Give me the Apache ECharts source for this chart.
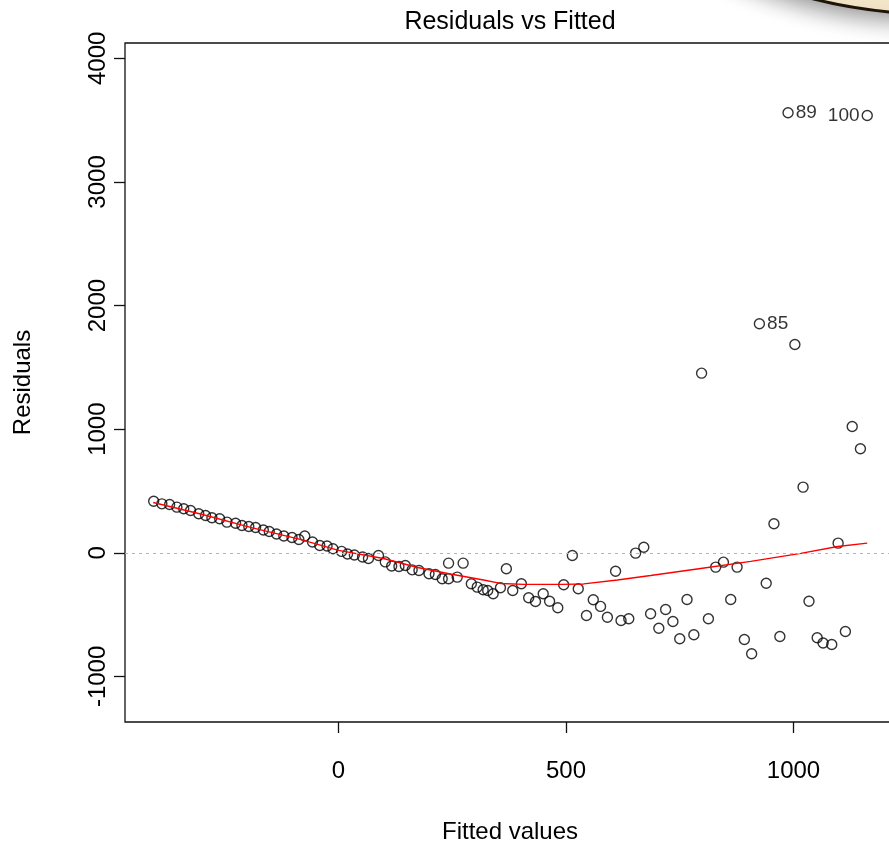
<!DOCTYPE html>
<html lang="en">

<head>
  <meta charset="UTF-8">
  <title>Residuals vs Fitted</title>
  <script src="https://cdn.jsdelivr.net/npm/echarts@6.0.0/dist/echarts.min.js"></script>
  <style>
    body {
      margin: 0;
      background: #fff;
    }
  </style>
</head>

<body>
  <div id="main" style="width: 889px;height:846px;"></div>
</body>
<script>
  // fitted values and residuals
  var fitted = [-406, -388, -371, -355, -340, -325, -307, -292, -278, -261,
    -245, -226, -212, -197, -182, -165, -152, -136, -120, -102,
    -87, -74, -57, -41, -25, -12, 7, 20, 35, 53,
    66, 88, 103, 117, 133, 147, 162, 177, 199, 213,
    228, 242, 242, 261, 274, 292, 305, 318, 328, 340,
    356, 369, 383, 402, 418, 433, 450, 464, 482, 495,
    514, 527, 545, 560, 576, 591, 609, 621, 638, 653,
    671, 686, 704, 719, 735, 750, 766, 781, 798, 813,
    829, 846, 862, 876, 892, 908, 925, 940, 957, 970,
    988, 1003, 1021, 1034, 1052, 1065, 1084, 1098, 1114, 1129,
    1147, 1162];
  var resid = [417, 396, 391, 369, 356, 342, 316, 302, 283, 275,
    248, 239, 221, 213, 205, 184, 172, 152, 136, 124,
    108, 136, 87, 59, 55, 32, 11, -10, -18, -34,
    -46, -22, -74, -107, -111, -103, -138, -143, -170, -176,
    -210, -210, -84, -197, -84, -251, -278, -299, -305, -332,
    -283, -129, -305, -251, -364, -394, -332, -392, -445, -259,
    -22, -291, -507, -380, -434, -521, -149, -548, -534, -3,
    45, -493, -610, -459, -556, -696, -378, -663, 1453, -534,
    -116, -76, -378, -116, -701, -817, 1853, -246, 235, -677,
    3560, 1685, 531, -392, -688, -730, -742, 78, -637, 1022,
    841, 3538];
  // smoother (red line)
  var lowessX = [-407, -303, -193, -84, 0, 99, 174, 246, 319, 356, 407, 488, 539, 613, 686, 796, 906, 1016, 1097, 1162];
  var lowessY = [407, 314, 205, 108, 19, -46, -119, -172, -220, -248, -256, -256, -252, -220, -184, -127, -70, -5, 51, 78];
  var xTicks = [0, 500, 1000];
  var yTicks = [-1000, 0, 1000, 2000, 3000, 4000];
  // labelled observations
  var idIndex = [86, 90, 101];
  var idText = ['85', '89', '100'];
  var idSide = ['right', 'right', 'left'];

  var myChart = echarts.init(document.getElementById('main'));
  var font = '"Liberation Sans", Arial, sans-serif';

  var points = fitted.map(function (x, i) {
    var item = { value: [x, resid[i]] };
    var k = idIndex.indexOf(i);
    if (k >= 0) {
      item.label = { show: true, formatter: idText[k], position: idSide[k], color: '#000' };
    }
    return item;
  });
  var smooth = lowessX.map(function (x, i) {
    return [x, lowessY[i]];
  });
  var plain = function (v) {
    return String(v);
  };

  var option = {
    animation: false,
    grid: {
      left: 125,
      top: 43,
      width: 770,
      height: 679,
      outerBoundsMode: 'none',
      show: true,
      borderColor: '#111',
      borderWidth: 1.3
    },
    graphic: [
      {
        // the round thing peeking in at the top right
        type: 'circle',
        shape: { cx: 935, cy: -483, r: 497 },
        style: {
          fill: '#f8ebcd',
          stroke: '#1e1408',
          lineWidth: 3,
          shadowBlur: 24,
          shadowColor: 'rgba(0,0,0,0.45)',
          shadowOffsetX: -4,
          shadowOffsetY: 5
        },
        z: 10
      },
      {
        type: 'text',
        x: 510,
        y: 22,
        style: {
          text: 'Residuals vs Fitted',
          fill: '#000',
          font: '25px ' + font,
          textAlign: 'center',
          textVerticalAlign: 'middle'
        }
      }
    ],
    xAxis: {
      type: 'value',
      min: -469,
      max: 1223,
      name: 'Fitted values',
      nameLocation: 'middle',
      nameGap: 98,
      nameTextStyle: { fontSize: 24, fontFamily: font, color: '#000' },
      axisLine: { show: false, onZero: false },
      splitLine: { show: false },
      axisTick: {
        show: true,
        length: 11,
        customValues: xTicks,
        lineStyle: { color: '#111', width: 1.3 }
      },
      axisLabel: {
        customValues: xTicks,
        formatter: plain,
        margin: 37,
        fontSize: 24,
        fontFamily: font,
        color: '#000'
      }
    },
    yAxis: {
      type: 'value',
      min: -1369,
      max: 4124,
      name: 'Residuals',
      nameLocation: 'middle',
      nameGap: 90,
      nameTextStyle: { fontSize: 24, fontFamily: font, color: '#000' },
      axisLine: { show: false, onZero: false },
      splitLine: { show: false },
      axisTick: {
        show: true,
        length: 11,
        customValues: yTicks,
        lineStyle: { color: '#111', width: 1.3 }
      },
      axisLabel: {
        customValues: yTicks,
        formatter: plain,
        rotate: 90,
        margin: 15,
        fontSize: 24,
        fontFamily: font,
        color: '#000'
      }
    },
    series: [
      {
        type: 'scatter',
        data: points,
        symbol: 'circle',
        symbolSize: 10,
        itemStyle: {
          color: 'rgba(0,0,0,0)',
          borderColor: '#000',
          borderWidth: 1.4
        },
        label: {
          fontSize: 19,
          fontFamily: font,
          color: '#000',
          distance: 2
        },
        markLine: {
          silent: true,
          symbol: ['none', 'none'],
          label: { show: false },
          lineStyle: { color: '#b4b4b4', type: [3, 4], width: 1.2 },
          data: [{ yAxis: 0 }]
        },
        z: 2
      },
      {
        type: 'line',
        data: smooth,
        showSymbol: false,
        lineStyle: { color: '#ff0000', width: 1.4 },
        z: 3
      }
    ]
  };
  myChart.setOption(option);
</script>

</html>
